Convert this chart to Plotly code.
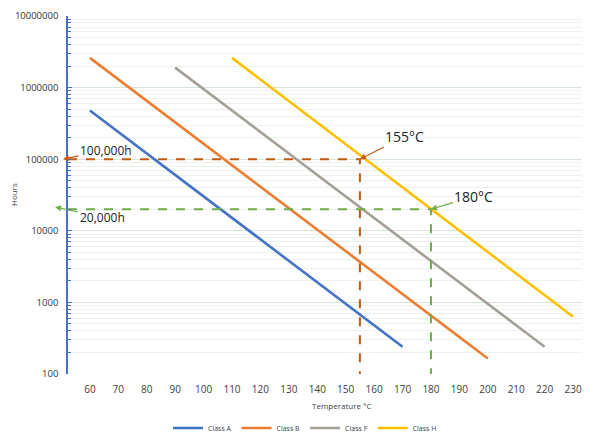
import plotly.graph_objects as go
import math

# Data
temps_A = [60, 170]
hours_A = [480000, 240]
temps_B = [60, 200]
hours_B = [2600000, 165]
temps_F = [90, 220]
hours_F = [1900000, 240]
temps_H = [110, 230]
hours_H = [2600000, 630]

x_ticks = list(range(60, 240, 10))
y_ticks = [100, 1000, 10000, 100000, 1000000, 10000000]

ref1_temp, ref1_hours = 155, 100000
ref2_temp, ref2_hours = 180, 20000

XMIN, XMAX = 52.3, 234.9
PLOT_W, PLOT_H = 519, 358
OFF = 8  # page body margin
FIG_W, FIG_H = 590 - OFF, 436 - OFF

fig = go.Figure()
series = [("Class A", temps_A, hours_A, "#4472C4"),
          ("Class B", temps_B, hours_B, "#ED7D31"),
          ("Class F", temps_F, hours_F, "#A5A097"),
          ("Class H", temps_H, hours_H, "#FFC000")]
for name, xs, ys, c in series:
    fig.add_trace(go.Scatter(x=xs, y=ys, mode="lines", name=name,
                             line=dict(color=c, width=2.6)))

fig.add_trace(go.Scatter(x=[XMIN, ref1_temp, ref1_temp], y=[ref1_hours, ref1_hours, 100],
                         mode="lines", showlegend=False, hoverinfo="skip",
                         line=dict(color="#C55A11", width=2, dash="dash")))
fig.add_trace(go.Scatter(x=[XMIN, ref2_temp, ref2_temp], y=[ref2_hours, ref2_hours, 100],
                         mode="lines", showlegend=False, hoverinfo="skip",
                         line=dict(color="#70AD47", width=2, dash="dash")))

fig.add_annotation(x=ref1_temp, y=math.log10(ref1_hours), text="155°C", showarrow=True,
                   ax=45, ay=-23, arrowhead=2, arrowsize=1, arrowwidth=1.2, arrowcolor="#C55A11",
                   font=dict(size=14, color="#222", family="Open Sans"))
fig.add_annotation(x=ref2_temp, y=math.log10(ref2_hours), text="180°C", showarrow=True,
                   ax=43, ay=-13, arrowhead=2, arrowsize=1, arrowwidth=1.2, arrowcolor="#70AD47",
                   font=dict(size=14, color="#222", family="Open Sans"))
fig.add_annotation(xref="paper", x=-5 / PLOT_W, y=math.log10(ref1_hours), text="100,000h",
                   showarrow=True, ax=43, ay=-9, arrowhead=2, arrowsize=1, arrowwidth=1.2,
                   arrowcolor="#C55A11", font=dict(size=12, color="#222", family="Open Sans"))
fig.add_annotation(xref="paper", x=-13 / PLOT_W, y=math.log10(ref2_hours) + 0.03, text="20,000h",
                   showarrow=True, ax=47, ay=10, arrowhead=2, arrowsize=1, arrowwidth=1.2,
                   arrowcolor="#70AD47", font=dict(size=12, color="#222", family="Open Sans"))
fig.add_annotation(xref="paper", yref="paper", x=(341 - 68) / PLOT_W, y=-32 / PLOT_H,
                   yanchor="middle", xanchor="center",
                   text="Temperature °C", showarrow=False,
                   font=dict(size=8, color="#404040", family="Open Sans"))
fig.add_annotation(xref="paper", yref="paper", x=-55 / PLOT_W, y=(374 - 195) / PLOT_H,
                   yanchor="middle", xanchor="center",
                   text="Hours", textangle=-90, showarrow=False,
                   font=dict(size=8, color="#404040", family="Open Sans"))

fig.update_xaxes(range=[XMIN, XMAX], tickvals=x_ticks, showgrid=False, zeroline=False,
                 showline=False, ticks="", ticklabelstandoff=8, automargin=False,
                 tickfont=dict(size=10, color="#404040", family="Open Sans"))
fig.update_yaxes(type="log", range=[2, 7], tickvals=y_ticks, tickformat="d",
                 showgrid=True, gridcolor="#d6e6d6", gridwidth=1,
                 showline=True, linecolor="#4472C4", linewidth=1.5,
                 ticks="inside", ticklen=4, tickcolor="#4472C4",
                 minor=dict(showgrid=True, gridcolor="#ecf3ec", ticks="inside", ticklen=3,
                            tickcolor="#4472C4", dtick="D1"),
                 zeroline=False, ticklabelstandoff=6, automargin=False,
                 tickfont=dict(size=9.5, color="#333", family="Open Sans"))

fig.update_layout(
    width=FIG_W, height=FIG_H,
    margin=dict(l=68 - OFF, r=3, t=16 - OFF, b=62, autoexpand=False),
    paper_bgcolor="white", plot_bgcolor="white",
    showlegend=True,
    legend=dict(orientation="h", xref="container", yref="container",
                x=(305 - OFF) / FIG_W, y=8 / FIG_H,
                xanchor="center", yanchor="middle",
                font=dict(size=7, color="#404040", family="Open Sans"),
                itemwidth=30, tracegroupgap=0),
)

fig.write_html("out.html")
